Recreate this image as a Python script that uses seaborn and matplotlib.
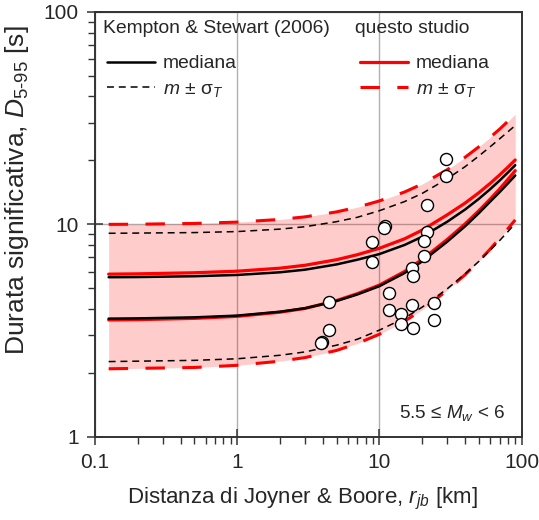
import numpy as np
import pandas as pd
import matplotlib
matplotlib.use('Agg')
import matplotlib.pyplot as plt
from matplotlib.ticker import LogLocator, NullFormatter
import seaborn as sns

dist = [0.125, 0.2, 0.5, 1, 2, 3, 5, 7, 10, 15, 20, 30, 40, 50, 60, 70, 80, 90]

# Kempton & Stewart (2006)
ks_med_hi = [5.64, 5.65, 5.70, 5.78, 5.95, 6.12, 6.48, 6.82, 7.25, 8.0, 8.75, 10.3,
             11.75, 13.2, 14.65, 16.1, 17.55, 19.0]
ks_med_lo = [3.60, 3.61, 3.65, 3.72, 3.88, 4.03, 4.36, 4.68, 5.12, 5.9, 6.7, 8.3,
             9.8, 11.3, 12.8, 14.2, 15.6, 17.0]
ks_plus = [9.08, 9.1, 9.15, 9.25, 9.5, 9.75, 10.3, 10.8, 11.6, 12.8, 14.0, 16.4,
           18.7, 21.0, 23.2, 25.3, 27.3, 29.2]
ks_minus = [2.26, 2.27, 2.29, 2.33, 2.42, 2.51, 2.7, 2.88, 3.18, 3.62, 4.08, 4.98,
            5.85, 6.7, 7.55, 8.4, 9.25, 10.1]

# questo studio
qs_med_hi = [5.83, 5.85, 5.92, 6.02, 6.22, 6.42, 6.82, 7.2, 7.72, 8.55, 9.4, 11.1,
             12.6, 14.1, 15.6, 17.1, 18.6, 20.1]
qs_med_lo = [3.55, 3.56, 3.61, 3.69, 3.86, 4.02, 4.38, 4.72, 5.18, 6.0, 6.85, 8.5,
             10.05, 11.6, 13.15, 14.7, 16.3, 17.9]
qs_plus = [10.0, 10.02, 10.1, 10.25, 10.55, 10.85, 11.45, 12.05, 12.9, 14.2, 15.5, 18.1,
           20.7, 23.2, 25.7, 28.1, 30.6, 33.0]
qs_minus = [2.09, 2.10, 2.12, 2.17, 2.27, 2.36, 2.55, 2.75, 3.04, 3.5, 3.96, 4.9,
            5.8, 6.72, 7.65, 8.6, 9.55, 10.5]

# recorded data
rec_rjb = [29.4, 29.4, 21.6, 11.0, 10.8, 21.6, 20.5, 8.83, 20.5, 8.83, 16.9, 17.2,
           4.4, 11.6, 11.6, 16.9, 24.1, 14.1, 14.1, 17.1, 24.1, 4.4, 3.96, 3.9]
rec_d = [20.3, 16.9, 12.4, 9.84, 9.6, 9.22, 8.33, 8.22, 7.11, 6.66, 6.2, 5.7,
         4.29, 4.76, 3.95, 4.18, 4.27, 3.78, 3.38, 3.24, 3.54, 3.18, 2.8, 2.75]

sns.set_style('ticks')
plt.rcParams['font.family'] = ['Liberation Sans', 'DejaVu Sans']
plt.rcParams['mathtext.fontset'] = 'custom'
plt.rcParams['mathtext.rm'] = 'Liberation Sans'
plt.rcParams['mathtext.it'] = 'Liberation Sans:italic'
plt.rcParams['lines.scale_dashes'] = False

fig, ax = plt.subplots(figsize=(5.39, 5.20), dpi=100)
fig.subplots_adjust(left=0.176, right=0.968, top=0.977, bottom=0.16)
ax.set_xscale('log')
ax.set_yscale('log')

ax.fill_between(dist, qs_minus, qs_plus, color='red', alpha=0.2, lw=0, zorder=1)

curves = pd.DataFrame({'rjb': dist, 'qs_hi': qs_med_hi, 'qs_lo': qs_med_lo,
                       'qs_p': qs_plus, 'qs_m': qs_minus,
                       'ks_hi': ks_med_hi, 'ks_lo': ks_med_lo,
                       'ks_p': ks_plus, 'ks_m': ks_minus})

red_dash = [14, 12.5]
blk_dash = [5, 3.5]
for col in ['qs_p', 'qs_m']:
    sns.lineplot(data=curves, x='rjb', y=col, ax=ax, color='#ff0000', lw=2.2, zorder=3)
    ax.lines[-1].set_dashes(red_dash)
h_qs_dash = ax.lines[-1]
for col in ['qs_hi', 'qs_lo']:
    sns.lineplot(data=curves, x='rjb', y=col, ax=ax, color='#ff0000', lw=2.3, zorder=3)
h_qs_med = ax.lines[-1]
for col in ['ks_p', 'ks_m']:
    sns.lineplot(data=curves, x='rjb', y=col, ax=ax, color='black', lw=1.1, zorder=4)
    ax.lines[-1].set_dashes(blk_dash)
h_ks_dash = ax.lines[-1]
for col in ['ks_hi', 'ks_lo']:
    sns.lineplot(data=curves, x='rjb', y=col, ax=ax, color='black', lw=1.8, zorder=4)
h_ks_med = ax.lines[-1]

sns.scatterplot(x=rec_rjb, y=rec_d, ax=ax, s=75, color='white', edgecolor='black',
                linewidth=1, zorder=5)

ax.set_xlim(0.1, 100)
ax.set_ylim(1, 100)
ax.set_xticks([0.1, 1, 10, 100])
ax.set_xticklabels(['0.1', '1', '10', '100'])
ax.set_yticks([1, 10, 100])
ax.set_yticklabels(['1', '10', '100'])
ax.xaxis.set_minor_locator(LogLocator(base=10, subs=np.arange(2, 10)))
ax.yaxis.set_minor_locator(LogLocator(base=10, subs=np.arange(2, 10)))
ax.xaxis.set_minor_formatter(NullFormatter())
ax.yaxis.set_minor_formatter(NullFormatter())
ax.tick_params(which='major', direction='inout', length=11, width=1.1,
               labelsize=15, color='#333333', pad=6)
ax.tick_params(which='minor', direction='out', length=5, width=1.0, color='#333333')
ax.grid(which='major', color='#b0b0b0', lw=1)
ax.set_axisbelow(True)
for sp in ax.spines.values():
    sp.set_linewidth(1.4)
    sp.set_color('#333333')

ax.set_xlabel('Distanza di Joyner & Boore, $r_{jb}$ [km]', fontsize=16)
ax.xaxis.set_label_coords(0.487, -0.116)
ax.set_ylabel('Durata significativa, $D_{\\text{5-95}}$ [s]', fontsize=19)
ax.yaxis.set_label_coords(-0.15, 0.581)

ax.text(0.96, 0.056, '5.5 ≤ $M_w$ < 6', transform=ax.transAxes, ha='right',
        va='center', fontsize=13.6)

# legend titles and entries
ax.text(0.019, 0.962, 'Kempton & Stewart (2006)', transform=ax.transAxes,
        ha='left', va='center', fontsize=13.9)
ax.text(0.609, 0.962, 'questo studio', transform=ax.transAxes,
        ha='left', va='center', fontsize=13.9)
leg_kw = dict(frameon=False, fontsize=13.9, handlelength=2.5, handletextpad=0.4,
              labelspacing=0.4, borderpad=0, borderaxespad=0, loc='upper left')
leg1 = ax.legend([h_ks_med, h_ks_dash], ['mediana', '$m$ ± σ$_T$'],
                 bbox_to_anchor=(0.028, 0.899), **leg_kw)
ax.add_artist(leg1)
ax.legend([h_qs_med, h_qs_dash], ['mediana', '$m$ ± σ$_T$'],
          bbox_to_anchor=(0.621, 0.899), **leg_kw)

fig.savefig('out.png', dpi=100)
